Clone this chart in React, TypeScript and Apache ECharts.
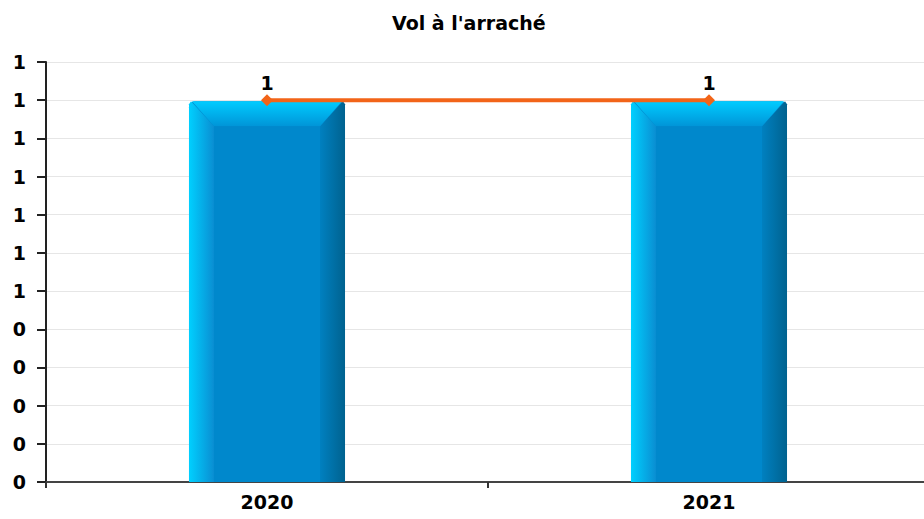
import React, { useEffect, useRef } from "react";
import * as echarts from "echarts";

const categories = ["2020", "2021"];
const barValues = [1, 1];
const lineValues = [1, 1];
const titleText = "Vol à l'arraché";

export default function App() {
  const ref = useRef<HTMLDivElement>(null);
  useEffect(() => {
    if (!ref.current) return;
    const chart = echarts.init(ref.current, null, { renderer: "svg" });
    const font = "DejaVu Sans";
    const fs = 19;
    const grad = (x: number, y: number, x2: number, y2: number, c1: string, c2: string) =>
      new echarts.graphic.LinearGradient(x, y, x2, y2, [
        { offset: 0, color: c1 },
        { offset: 1, color: c2 },
      ]);
    chart.setOption({
      animation: false,
      title: {
        text: titleText,
        left: 379,
        top: 0,
        textStyle: { fontFamily: font, fontSize: fs, fontWeight: "bold", color: "#000" },
      },
      grid: { left: 38, top: 54, bottom: 27, width: 884 },
      xAxis: {
        type: "category",
        data: categories,
        axisLine: { lineStyle: { color: "#444", width: 2 } },
        axisTick: { show: true, length: 6, lineStyle: { color: "#333", width: 2 } },
        axisLabel: { fontFamily: font, fontSize: fs, fontWeight: "bold", color: "#000", margin: 10 },
        splitLine: { show: false },
      },
      yAxis: {
        type: "value",
        min: 0,
        max: 1.1,
        interval: 0.1,
        axisLine: { show: true, lineStyle: { color: "#222", width: 2 } },
        axisTick: { show: true, length: 9, lineStyle: { color: "#222", width: 2 } },
        axisLabel: {
          fontFamily: font,
          fontSize: fs,
          fontWeight: "bold",
          color: "#000",
          margin: 20,
          formatter: (v: number) => String(Math.round(v)),
        },
        splitLine: { lineStyle: { color: "#e6e6e6", width: 1 } },
      },
      series: [
        {
          type: "custom",
          data: barValues.map((v, i) => [i, v]),
          encode: { x: 0, y: 1 },
          z: 2,
          renderItem: (params: any, api: any) => {
            const xi = api.value(0);
            const v = api.value(1);
            const top = api.coord([xi, v]);
            const base = api.coord([xi, 0]);
            const bw = api.size([1, 0])[0] * 0.353;
            const x0 = top[0] - bw / 2;
            const x1 = top[0] + bw / 2;
            const y0 = top[1] + 1;
            const yb = base[1];
            const d = 25;
            return {
              type: "group",
              children: [
                {
                  type: "rect",
                  shape: { x: x0, y: y0, width: bw, height: yb - y0, r: [6, 6, 0, 0] },
                  style: { fill: "#0088cc" },
                },
                {
                  type: "polygon",
                  shape: { points: [[x0 + 2, y0], [x0 + d, y0 + d], [x0 + d, yb], [x0, yb], [x0, y0 + 3]] },
                  style: { fill: grad(0, 0, 1, 0, "#00d0ff", "#0a8ed2") },
                },
                {
                  type: "polygon",
                  shape: { points: [[x1 - 2, y0], [x1, y0 + 3], [x1, yb], [x1 - d, yb], [x1 - d, y0 + d]] },
                  style: { fill: grad(0, 0, 1, 0, "#0080c0", "#00628f") },
                },
                {
                  type: "polygon",
                  shape: { points: [[x0 + 3, y0], [x1 - 3, y0], [x1 - d, y0 + d], [x0 + d, y0 + d]] },
                  style: { fill: grad(0, 0, 0, 1, "#00ccff", "#0095d8") },
                },
                {
                  type: "rect",
                  shape: { x: x0 + d, y: y0 + d, width: bw - 2 * d, height: yb - y0 - d },
                  style: { fill: "#0088cc" },
                },
              ],
            };
          },
        },
        {
          type: "line",
          data: lineValues,
          z: 5,
          symbol: "diamond",
          symbolSize: 12,
          itemStyle: { color: "#f26418" },
          lineStyle: { color: "#f26418", width: 4 },
          label: {
            show: true,
            position: "top",
            distance: 2,
            fontFamily: font,
            fontSize: fs,
            fontWeight: "bold",
            color: "#000",
          },
        },
      ],
    });
    return () => chart.dispose();
  }, []);
  return (
    <div style={{ position: "absolute", left: 8, top: 8, width: 916, height: 503, overflow: "hidden" }}>
      <div ref={ref} style={{ width: 930, height: 503 }} />
    </div>
  );
}
